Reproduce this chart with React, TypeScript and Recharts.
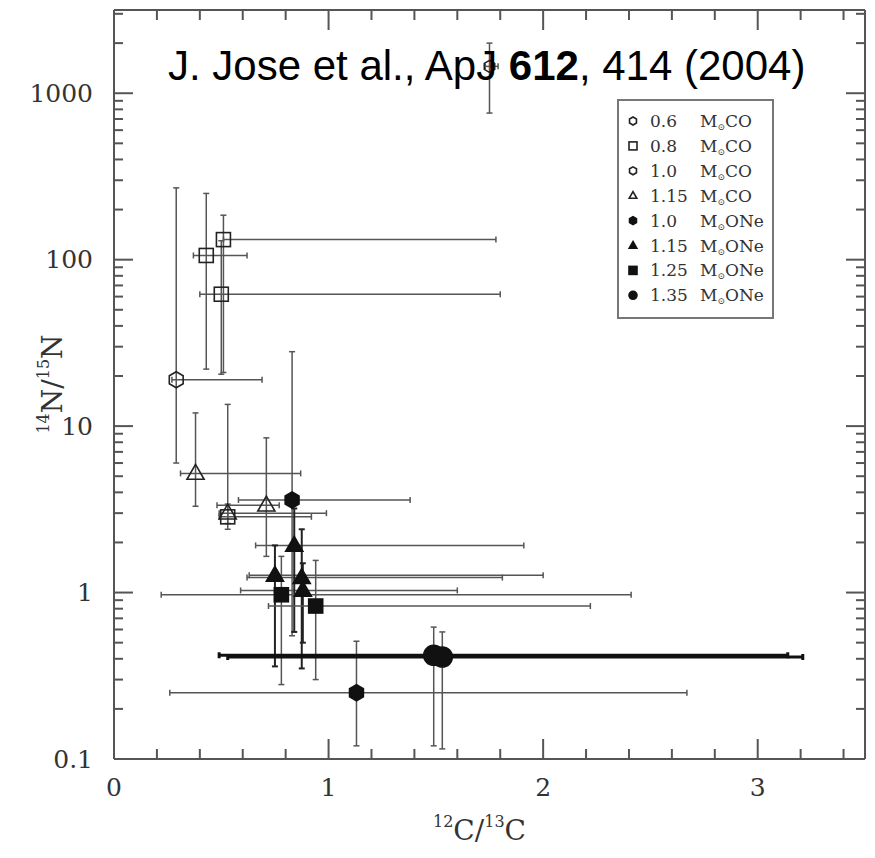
import React from 'react';
import { ScatterChart, Scatter, XAxis, YAxis, ErrorBar } from 'recharts';

type Pt = { x: number; y: number; xLo: number; xHi: number; yLo: number; yHi: number };

// values (12C/13C vs 14N/15N)
const co06: Pt[] = [{ x: 1.75, y: 1450, xLo: 1.73, xHi: 1.79, yLo: 760, yHi: 2000 }];
const co08: Pt[] = [
  { x: 0.43, y: 106, xLo: 0.37, xHi: 0.62, yLo: 22, yHi: 250 },
  { x: 0.51, y: 132, xLo: 0.51, xHi: 1.78, yLo: 21, yHi: 185 },
  { x: 0.5, y: 62, xLo: 0.4, xHi: 1.8, yLo: 20.5, yHi: 130 },
  { x: 0.53, y: 2.85, xLo: 0.49, xHi: 0.92, yLo: 2.4, yHi: 3.4 },
];
const co10: Pt[] = [{ x: 0.29, y: 19, xLo: 0.27, xHi: 0.69, yLo: 6.0, yHi: 270 }];
const co115: Pt[] = [
  { x: 0.38, y: 5.2, xLo: 0.31, xHi: 0.87, yLo: 3.3, yHi: 12 },
  { x: 0.53, y: 3.0, xLo: 0.49, xHi: 0.99, yLo: 2.6, yHi: 13.5 },
  { x: 0.71, y: 3.35, xLo: 0.48, xHi: 0.77, yLo: 1.65, yHi: 8.5 },
];
const one10: Pt[] = [
  { x: 0.83, y: 3.6, xLo: 0.58, xHi: 1.38, yLo: 0.55, yHi: 28 },
  { x: 1.13, y: 0.25, xLo: 0.26, xHi: 2.67, yLo: 0.12, yHi: 0.51 },
];
const one115: Pt[] = [
  { x: 0.84, y: 1.92, xLo: 0.66, xHi: 1.91, yLo: 0.58, yHi: 3.2 },
  { x: 0.75, y: 1.27, xLo: 0.63, xHi: 2.0, yLo: 0.36, yHi: 1.92 },
  { x: 0.875, y: 1.23, xLo: 0.62, xHi: 1.81, yLo: 0.35, yHi: 2.4 },
  { x: 0.88, y: 1.03, xLo: 0.59, xHi: 1.6, yLo: 0.5, yHi: 1.5 },
];
const one125: Pt[] = [
  { x: 0.78, y: 0.97, xLo: 0.22, xHi: 2.41, yLo: 0.28, yHi: 1.65 },
  { x: 0.94, y: 0.83, xLo: 0.72, xHi: 2.22, yLo: 0.3, yHi: 1.56 },
];
const one135: Pt[] = [
  { x: 1.49, y: 0.42, xLo: 0.49, xHi: 3.14, yLo: 0.12, yHi: 0.62 },
  { x: 1.53, y: 0.41, xLo: 0.53, xHi: 3.21, yLo: 0.115, yHi: 0.58 },
];

const xTicks = [0, 0.2, 0.4, 0.6, 0.8, 1, 1.2, 1.4, 1.6, 1.8, 2, 2.2, 2.4, 2.6, 2.8, 3, 3.2, 3.4];
const yTicks = [
  0.1, 0.2, 0.3, 0.4, 0.5, 0.6, 0.7, 0.8, 0.9,
  1, 2, 3, 4, 5, 6, 7, 8, 9,
  10, 20, 30, 40, 50, 60, 70, 80, 90,
  100, 200, 300, 400, 500, 600, 700, 800, 900,
  1000, 2000, 3000,
];

const legendLabels = [
  { mass: '0.6', core: 'CO', kind: 'hexagon', filled: false },
  { mass: '0.8', core: 'CO', kind: 'square', filled: false },
  { mass: '1.0', core: 'CO', kind: 'hexagon', filled: false },
  { mass: '1.15', core: 'CO', kind: 'triangle', filled: false },
  { mass: '1.0', core: 'ONe', kind: 'hexagon', filled: true },
  { mass: '1.15', core: 'ONe', kind: 'triangle', filled: true },
  { mass: '1.25', core: 'ONe', kind: 'square', filled: true },
  { mass: '1.35', core: 'ONe', kind: 'circle', filled: true },
];

const AXIS = '#555';
const SERIF = '"DejaVu Serif", serif';

const toRows = (pts: Pt[]) =>
  pts.map((p) => ({ x: p.x, y: p.y, ex: [p.x - p.xLo, p.xHi - p.x], ey: [p.y - p.yLo, p.yHi - p.y] }));

const Marker = ({ cx, cy, kind, r, filled }: any) => {
  const fill = filled ? '#111' : 'none';
  const stroke = filled ? '#111' : '#222';
  const sw = 1.6;
  if (kind === 'square') {
    return <rect x={cx - r} y={cy - r} width={r * 2} height={r * 2} fill={fill} stroke={stroke} strokeWidth={sw} />;
  }
  if (kind === 'circle') {
    return <circle cx={cx} cy={cy} r={r} fill={fill} stroke={stroke} strokeWidth={sw} />;
  }
  if (kind === 'triangle') {
    const pts = [
      [cx, cy - r],
      [cx + r * 0.95, cy + r * 0.65],
      [cx - r * 0.95, cy + r * 0.65],
    ];
    return <polygon points={pts.map((q) => q.join(',')).join(' ')} fill={fill} stroke={stroke} strokeWidth={sw} />;
  }
  const pts: number[][] = [];
  for (let i = 0; i < 6; i++) {
    const a = (Math.PI / 3) * i + Math.PI / 6;
    pts.push([cx + r * Math.cos(a), cy + r * Math.sin(a)]);
  }
  return <polygon points={pts.map((q) => q.join(',')).join(' ')} fill={fill} stroke={stroke} strokeWidth={sw} />;
};

const XTick = ({ x, y, payload, top }: any) => {
  const v = payload.value;
  const major = Math.abs(v - Math.round(v)) < 1e-6;
  const len = major ? 20 : 10;
  return (
    <g>
      <line x1={x} x2={x} y1={y} y2={top ? y + len : y - len} stroke={AXIS} strokeWidth={2} />
      {!top && major && (
        <text x={x} y={y + 28} textAnchor="middle" dominantBaseline="central" fontFamily={SERIF} fontSize={25} fill="#333">
          {Math.round(v)}
        </text>
      )}
    </g>
  );
};

const YTick = ({ x, y, payload, right }: any) => {
  const v = payload.value;
  const lg = Math.log10(v);
  const major = Math.abs(lg - Math.round(lg)) < 1e-6;
  const len = major ? 19 : 9;
  return (
    <g>
      <line x1={x} x2={right ? x - len : x + len} y1={y} y2={y} stroke={AXIS} strokeWidth={2} />
      {!right && major && (
        <text x={x - 21} y={y} textAnchor="end" dominantBaseline="central" fontFamily={SERIF} fontSize={25} fill="#333">
          {v >= 1 ? String(Math.round(v)) : String(v)}
        </text>
      )}
    </g>
  );
};

const series = [
  { name: '0.6 CO', pts: co06, kind: 'hexagon', r: 6, filled: false, xc: '#555', xw: 1.5, yc: '#555', yw: 1.5 },
  { name: '0.8 CO', pts: co08, kind: 'square', r: 7, filled: false, xc: '#555', xw: 1.5, yc: '#555', yw: 1.5 },
  { name: '1.0 CO', pts: co10, kind: 'hexagon', r: 8, filled: false, xc: '#555', xw: 1.5, yc: '#555', yw: 1.5 },
  { name: '1.15 CO', pts: co115, kind: 'triangle', r: 9, filled: false, xc: '#555', xw: 1.5, yc: '#555', yw: 1.5 },
  { name: '1.0 ONe', pts: one10, kind: 'hexagon', r: 8, filled: true, xc: '#555', xw: 1.5, yc: '#555', yw: 1.5 },
  { name: '1.15 ONe', pts: one115, kind: 'triangle', r: 9, filled: true, xc: '#555', xw: 1.5, yc: '#222', yw: 2 },
  { name: '1.25 ONe', pts: one125, kind: 'square', r: 7, filled: true, xc: '#555', xw: 1.5, yc: '#555', yw: 1.5 },
  { name: '1.35 ONe', pts: one135, kind: 'circle', r: 10, filled: true, xc: '#111', xw: 3, yc: '#555', yw: 1.5 },
];

export default function App() {
  return (
    <div style={{ position: 'absolute', left: 0, top: 0, width: 875, height: 858, background: '#fff' }}>
      <ScatterChart width={875} height={858} margin={{ top: 9, right: 9, bottom: 0, left: 0 }}>
        <XAxis
          xAxisId="b"
          type="number"
          dataKey="x"
          domain={[0, 3.5]}
          allowDataOverflow
          ticks={xTicks}
          interval={0}
          height={99}
          tickSize={0}
          tickMargin={0}
          axisLine={{ stroke: AXIS, strokeWidth: 2 }}
          tick={<XTick />}
          label={(p: any) => {
            const vb = p.viewBox;
            return (
              <text x={vb.x + vb.width / 2 - 10} y={830} textAnchor="middle" dominantBaseline="central" fontFamily={SERIF} fontSize={28} fill="#333">
                <tspan fontSize={16} dy={-9}>12</tspan>
                <tspan dy={9}>C/</tspan>
                <tspan fontSize={16} dy={-9}>13</tspan>
                <tspan dy={9}>C</tspan>
              </text>
            );
          }}
        />
        <XAxis
          xAxisId="t"
          orientation="top"
          type="number"
          dataKey="x"
          domain={[0, 3.5]}
          allowDataOverflow
          ticks={xTicks}
          interval={0}
          height={1}
          tickSize={0}
          tickMargin={0}
          axisLine={{ stroke: AXIS, strokeWidth: 2 }}
          tick={<XTick top />}
        />
        <YAxis
          yAxisId="l"
          type="number"
          dataKey="y"
          scale="log"
          domain={[0.1, 3162.28]}
          allowDataOverflow
          ticks={yTicks}
          interval={0}
          width={114}
          tickSize={0}
          tickMargin={0}
          axisLine={{ stroke: AXIS, strokeWidth: 2 }}
          tick={<YTick />}
          label={() => (
            <text x={52} y={384} transform="rotate(-90 52 384)" textAnchor="middle" dominantBaseline="central" fontFamily={SERIF} fontSize={28} fill="#333">
              <tspan fontSize={16} dy={-9}>14</tspan>
              <tspan dy={9}>N/</tspan>
              <tspan fontSize={16} dy={-9}>15</tspan>
              <tspan dy={9}>N</tspan>
            </text>
          )}
        />
        <YAxis
          yAxisId="r"
          orientation="right"
          type="number"
          dataKey="y"
          scale="log"
          domain={[0.1, 3162.28]}
          allowDataOverflow
          ticks={yTicks}
          interval={0}
          width={1}
          tickSize={0}
          tickMargin={0}
          axisLine={{ stroke: AXIS, strokeWidth: 2 }}
          tick={<YTick right />}
        />
        {/* carries the mirrored top/right axes, draws nothing */}
        <Scatter xAxisId="t" yAxisId="r" data={[]} isAnimationActive={false} />
        {series.map((s) => (
          <Scatter
            key={s.name}
            name={s.name}
            xAxisId="b"
            yAxisId="l"
            data={toRows(s.pts)}
            isAnimationActive={false}
            shape={(p: any) => <Marker cx={p.cx} cy={p.cy} kind={s.kind} r={s.r} filled={s.filled} />}
          >
            <ErrorBar dataKey="ex" direction="x" width={3} stroke={s.xc} strokeWidth={s.xw} />
            <ErrorBar dataKey="ey" direction="y" width={3} stroke={s.yc} strokeWidth={s.yw} />
          </Scatter>
        ))}
      </ScatterChart>
      <svg width={875} height={858} style={{ position: 'absolute', left: 0, top: 0, pointerEvents: 'none' }}>
        <text x={168} y={80} fontFamily='"Liberation Sans", Arial, sans-serif' fontSize={42} fill="#000">
          J. Jose et al., ApJ <tspan fontWeight="bold">612</tspan>, 414 (2004)
        </text>
        <rect x={618} y={100} width={155} height={218} fill="#fff" stroke="#777" strokeWidth={2} />
        {legendLabels.map((l, i) => {
          const cy = 121 + i * 24.9;
          return (
            <g key={i}>
              <Marker cx={633} cy={cy} kind={l.kind} r={4} filled={l.filled} />
              <text x={650} y={cy} dominantBaseline="central" fontFamily={SERIF} fontSize={17} fill="#333">
                {l.mass}
              </text>
              <text x={700} y={cy} dominantBaseline="central" fontFamily={SERIF} fontSize={17} fill="#333">
                M<tspan fontSize={9} dy={6}>⊙</tspan>
                <tspan dy={-6}>{l.core}</tspan>
              </text>
            </g>
          );
        })}
      </svg>
    </div>
  );
}
